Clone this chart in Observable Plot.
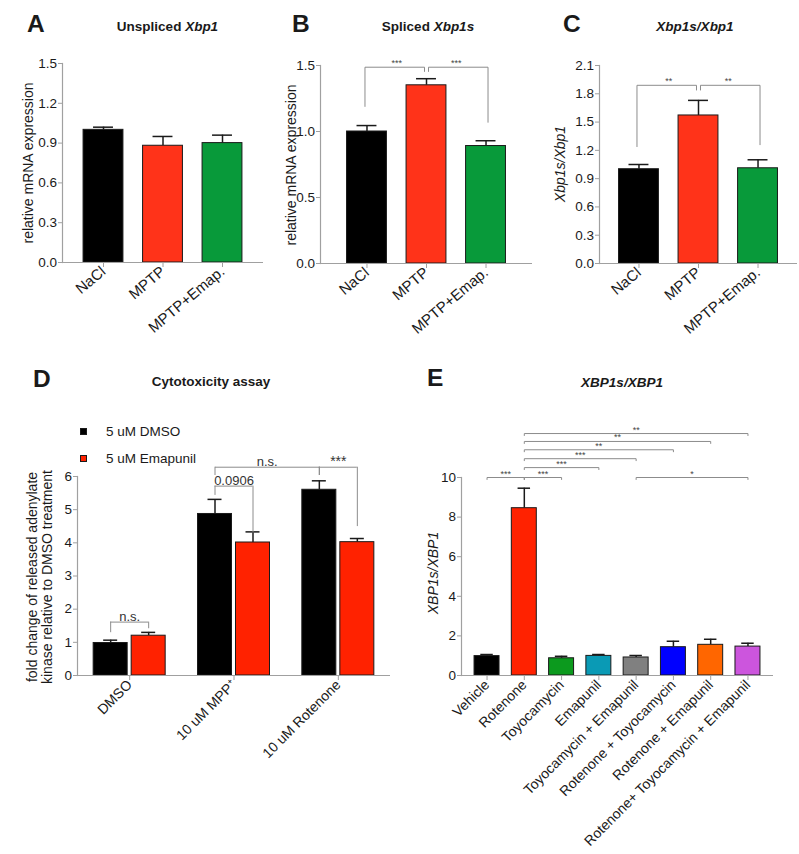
<!DOCTYPE html>
<html>
<head>
<meta charset="utf-8">
<script src="https://cdn.jsdelivr.net/npm/d3@7"></script>
<script src="https://cdn.jsdelivr.net/npm/@observablehq/plot@0.6"></script>
<style>
html,body{margin:0;padding:0;background:#fff;}
#fig{position:relative;width:799px;height:854px;overflow:hidden;font-family:"Liberation Sans",Arial,sans-serif;color:#1a1a1a;}
#fig svg{position:absolute;left:0;top:0;}
.lbl{position:absolute;white-space:nowrap;line-height:1;}
.letter{font-weight:bold;font-size:24.5px;}
.title{font-weight:bold;font-size:13.5px;transform:translate(-50%,-50%);}
.ylab{font-size:14px;transform:translate(-50%,-50%) rotate(-90deg);text-align:center;line-height:15px;}
.leg{font-size:13.5px;transform:translateY(-50%);}
.sw{position:absolute;width:7px;height:7px;box-sizing:border-box;border:1px solid #1a1a1a;}
</style>
</head>
<body>
<div id="fig"></div>
<script>
// ---------------- data ----------------
// Panels A–C (mouse)
const mouseGroups = ["NaCl", "MPTP", "MPTP+Emap."];
const mouseColors = ["#000000", "#ff3319", "#089a3a"];

const unsplicedMean = [1.00, 0.88, 0.90];
const unsplicedSem  = [0.02, 0.07, 0.06];
const unsplicedTicks = [0, 0.3, 0.6, 0.9, 1.2, 1.5];

const splicedMean = [1.00, 1.35, 0.89];
const splicedSem  = [0.045, 0.05, 0.04];
const splicedTicks = [0, 0.5, 1.0, 1.5];
const splicedSig = [
  {from: "NaCl", to: "MPTP", yFrom: 1.19, yTo: 1.455, level: 1.487, label: "***"},
  {from: "MPTP", to: "MPTP+Emap.", yFrom: 1.455, yTo: 1.07, level: 1.487, label: "***"}
];

const ratioMean = [1.00, 1.57, 1.01];
const ratioSem  = [0.05, 0.16, 0.09];
const ratioTicks = [0, 0.3, 0.6, 0.9, 1.2, 1.5, 1.8, 2.1];
const ratioSig = [
  {from: "NaCl", to: "MPTP", yFrom: 1.24, yTo: 1.84, level: 1.89, label: "**"},
  {from: "MPTP", to: "MPTP+Emap.", yFrom: 1.84, yTo: 1.26, level: 1.89, label: "**"}
];

// Panel D (cytotoxicity)
const dGroups = ["DMSO", "10 uM MPP\u207A", "10 uM Rotenone"];
const dSeries = ["5 uM DMSO", "5 uM Emapunil"];
const dColors = ["#000000", "#ff2200"];
const dDmsoMean = [0.98, 4.87, 5.60];
const dDmsoSem  = [0.085, 0.44, 0.27];
const dEmapMean = [1.20, 4.01, 4.02];
const dEmapSem  = [0.10, 0.32, 0.11];
const dTicks = [0, 1, 2, 3, 4, 5, 6];
const dSig = [
  {g1: "DMSO", s1: 0, g2: "DMSO", s2: 1, y1: 1.29, y2: 1.41, level: 1.61, label: "n.s."},
  {g1: "10 uM MPP\u207A", s1: 0, g2: "10 uM MPP\u207A", s2: 1, y1: 5.43, y2: 4.29, level: 5.71, label: "0.0906"},
  {g1: "10 uM MPP\u207A", s1: 0, g2: "10 uM Rotenone", s2: 0, y1: 6.03, y2: 6.03, level: 6.28, label: "n.s."},
  {g1: "10 uM Rotenone", s1: 0, g2: "10 uM Rotenone", s2: 1, y1: 6.03, y2: 4.49, level: 6.28, label: "***"}
];

// Panel E (XBP1s/XBP1)
const eGroups = ["Vehicle", "Rotenone", "Toyocamycin", "Emapunil", "Toyocamycin + Emapunil",
  "Rotenone + Toyocamycin", "Rotenone + Emapunil", "Rotenone+ Toyocamycin + Emapunil"];
const eColors = ["#000000", "#ff2200", "#0c9a1e", "#0a9ab5", "#808080", "#0000ff", "#ff6600", "#cc55dd"];
const eMean = [0.98, 8.45, 0.87, 0.99, 0.91, 1.43, 1.55, 1.46];
const eSem  = [0.08, 1.01, 0.10, 0.07, 0.10, 0.30, 0.28, 0.17];
const eTicks = [0, 2, 4, 6, 8, 10];
const eSig = [
  {from: "Vehicle", to: "Rotenone", level: 10, label: "***"},
  {from: "Rotenone", to: "Toyocamycin", level: 10, label: "***"},
  {from: "Rotenone", to: "Emapunil", level: 10.5, label: "***"},
  {from: "Rotenone", to: "Toyocamycin + Emapunil", level: 10.95, label: "***"},
  {from: "Rotenone", to: "Rotenone + Toyocamycin", level: 11.4, label: "**"},
  {from: "Rotenone", to: "Rotenone + Emapunil", level: 11.82, label: "**"},
  {from: "Rotenone", to: "Rotenone+ Toyocamycin + Emapunil", level: 12.22, label: "**"},
  {from: "Toyocamycin + Emapunil", to: "Rotenone+ Toyocamycin + Emapunil", level: 10, label: "*"}
];

// ---------------- rendering ----------------
const W = 799, H = 854;
const AXIS = "#a0a0a0", INK = "#1a1a1a", BRK = "#8c8c8c";
const fig = document.getElementById("fig");
const style = {background: "transparent", overflow: "visible", fontFamily: '"Liberation Sans", Arial, sans-serif', fontSize: "13.5px", color: INK};

function axisMarks(ticks, fmt, rot = -45, xSize = 14) {
  return [
    Plot.ruleY([0], {stroke: AXIS, strokeWidth: 1.2}),
    Plot.frame({anchor: "left", stroke: AXIS, strokeWidth: 1.2}),
    Plot.axisY({ticks, tickFormat: fmt, tickSize: 4, tickPadding: 1.5, fontSize: 13.5, stroke: AXIS, fill: INK, label: null}),
    Plot.axisX({tickRotate: rot, tickSize: 5, tickPadding: 2, fontSize: xSize, stroke: AXIS, fill: INK, label: null})
  ];
}

function simplePanel(p) {
  const n = p.groups.length;
  const step = (p.right - p.left) / (n - p.pi + 2 * p.po);
  const bw = step * (1 - p.pi);
  const data = p.groups.map((g, i) => ({group: g, mean: p.mean[i], top: p.mean[i] + p.sem[i]}));
  const marks = [
    Plot.ruleX(data, {x: "group", y1: "mean", y2: "top", stroke: INK, strokeWidth: 1.5}),
    Plot.tickY(data, {x: "group", y: "top", stroke: INK, strokeWidth: 1.5, insetLeft: bw / 4, insetRight: bw / 4}),
    Plot.barY(data, {x: "group", y: "mean", fill: "group", stroke: INK, strokeWidth: 1}),
    ...axisMarks(p.ticks, p.fmt, p.rot, p.xSize)
  ];
  (p.sig || []).forEach((b, k) => {
    const tick = p.endTick;
    const pts = tick
      ? [{x: b.from, y: b.level - tick}, {x: b.from, y: b.level}, {x: b.to, y: b.level}, {x: b.to, y: b.level - tick}]
      : [{x: b.from, y: b.yFrom}, {x: b.from, y: b.level}, {x: b.to, y: b.level}, {x: b.to, y: b.yTo}];
    marks.push(Plot.line(pts, {x: "x", y: "y", stroke: BRK, strokeWidth: 1, dx: p.nudge ? (k === 0 ? -2 : 2) : 0}));
    const span = p.groups.indexOf(b.to) - p.groups.indexOf(b.from);
    marks.push(Plot.text([b], {x: "from", y: "level", text: "label", dx: span * step / 2, dy: -1, lineAnchor: "bottom", fontSize: 9, fill: "#444"}));
  });
  return Plot.plot({
    width: W, height: H,
    marginLeft: p.left, marginRight: W - p.right, marginTop: p.top, marginBottom: H - p.bottom,
    x: {domain: p.groups, paddingInner: p.pi, paddingOuter: p.po, round: false},
    y: {domain: [0, p.ticks[p.ticks.length - 1]]},
    color: {domain: p.groups, range: p.colors},
    style, marks
  });
}

function cytoPanel() {
  const left = 77, right = 390, top = 476, bottom = 675;
  const step = (right - left) / dGroups.length;
  const off = [-19, 19], half = 17, cap = 7;
  const data = dGroups.flatMap((g, i) => [
    {group: g, series: dSeries[0], mean: dDmsoMean[i], top: dDmsoMean[i] + dDmsoSem[i]},
    {group: g, series: dSeries[1], mean: dEmapMean[i], top: dEmapMean[i] + dEmapSem[i]}
  ]);
  const marks = [];
  dSeries.forEach((s, k) => {
    const rows = data.filter(d => d.series === s);
    marks.push(
      Plot.ruleX(rows, {x: "group", y1: "mean", y2: "top", dx: off[k], stroke: INK, strokeWidth: 1.5}),
      Plot.tickY(rows, {x: "group", y: "top", insetLeft: step / 2 + off[k] - cap, insetRight: step / 2 - off[k] - cap, stroke: INK, strokeWidth: 1.5}),
      Plot.barY(rows, {x: "group", y: "mean", fill: "series", stroke: INK, strokeWidth: 1,
        insetLeft: step / 2 + off[k] - half, insetRight: step / 2 - off[k] - half})
    );
  });
  marks.push(...axisMarks(dTicks, d3.format("d")));
  dSig.forEach(b => {
    const o1 = off[b.s1], o2 = off[b.s2];
    marks.push(
      Plot.ruleX([b], {x: "g1", y1: "y1", y2: "level", dx: o1, stroke: BRK}),
      Plot.ruleX([b], {x: "g2", y1: "y2", y2: "level", dx: o2, stroke: BRK})
    );
    if (b.g1 === b.g2) {
      marks.push(Plot.tickY([b], {x: "g1", y: "level", insetLeft: step / 2 + o1, insetRight: step / 2 - o2, stroke: BRK}));
    } else {
      marks.push(Plot.link([b], {x1: "g1", x2: "g2", y1: "level", y2: "level", dx: o1, stroke: BRK}));
    }
    const span = dGroups.indexOf(b.g2) - dGroups.indexOf(b.g1);
    marks.push(Plot.text([b], {x: "g1", y: "level", text: "label", dx: span * step / 2 + (o1 + o2) / 2, dy: -1,
      lineAnchor: "bottom", fontSize: b.label === "***" ? 14 : 13, fill: "#333"}));
  });
  return Plot.plot({
    width: W, height: H,
    marginLeft: left, marginRight: W - right, marginTop: top, marginBottom: H - bottom,
    x: {domain: dGroups, padding: 0, round: false},
    y: {domain: [0, 6]},
    color: {domain: dSeries, range: dColors},
    style, marks
  });
}

const f1 = d3.format(".1f");
fig.appendChild(simplePanel({groups: mouseGroups, colors: mouseColors, mean: unsplicedMean, sem: unsplicedSem, ticks: unsplicedTicks, fmt: f1,
  left: 62, right: 263, top: 63, bottom: 262, pi: 0.33, po: 0.354, rot: -40, xSize: 15}));
fig.appendChild(simplePanel({groups: mouseGroups, colors: mouseColors, mean: splicedMean, sem: splicedSem, ticks: splicedTicks, fmt: f1,
  left: 320, right: 532, top: 65, bottom: 263, pi: 0.33, po: 0.446, sig: splicedSig, nudge: true, rot: -40, xSize: 15}));
fig.appendChild(simplePanel({groups: mouseGroups, colors: mouseColors, mean: ratioMean, sem: ratioSem, ticks: ratioTicks, fmt: f1,
  left: 599, right: 797, top: 65, bottom: 263, pi: 0.33, po: 0.328, sig: ratioSig, nudge: true, rot: -40, xSize: 15}));
fig.appendChild(cytoPanel());
fig.appendChild(simplePanel({groups: eGroups, colors: eColors, mean: eMean, sem: eSem, ticks: eTicks, fmt: d3.format("d"),
  left: 461, right: 773, top: 477, bottom: 675, pi: 0.33, po: 0.35, sig: eSig, endTick: 0.1}));

// ---------------- text (letters, titles, axis labels, legend) ----------------
function addText(cls, x, y, html) {
  const d = document.createElement("div");
  d.className = "lbl " + cls;
  d.style.left = x + "px"; d.style.top = y + "px";
  d.innerHTML = html;
  fig.appendChild(d);
}
addText("letter", 27, 11.5, "A");
addText("letter", 292, 11.5, "B");
addText("letter", 563, 11.5, "C");
addText("letter", 33, 366.5, "D");
addText("letter", 427, 365.5, "E");

addText("title", 167.5, 27, "Unspliced <i>Xbp1</i>");
addText("title", 428, 27, "Spliced <i>Xbp1s</i>");
addText("title", 695, 27, "<i>Xbp1s/Xbp1</i>");
addText("title", 211, 382, "Cytotoxicity assay");
addText("title", 622, 383, "<i>XBP1s/XBP1</i>");

addText("ylab", 28, 163, "relative mRNA expression");
addText("ylab", 291, 165, "relative mRNA expression");
addText("ylab", 560, 164, "<i>Xbp1s/Xbp1</i>");
addText("ylab", 39.5, 577, "fold change of released adenylate<br>kinase relative to DMSO treatment");
addText("ylab", 433, 573, "<i>XBP1s/XBP1</i>");

dSeries.forEach((s, i) => {
  const sw = document.createElement("div");
  sw.className = "sw";
  sw.style.left = "80px"; sw.style.top = (428 + i * 27) + "px";
  sw.style.background = dColors[i];
  fig.appendChild(sw);
  addText("leg", 106, 431.5 + i * 27, s);
});
</script>
</body>
</html>
